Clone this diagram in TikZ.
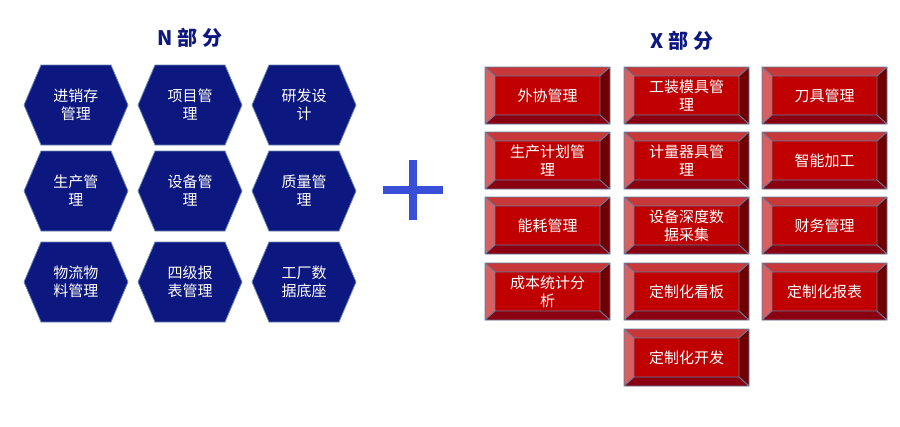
\documentclass[tikz,border=0pt]{standalone}
\usepackage{fontspec}
\setmainfont{Noto Sans CJK SC}
\usetikzlibrary{positioning}
\definecolor{hexblue}{HTML}{0D1780}
\definecolor{hexedge}{HTML}{6A88B0}
\definecolor{plusblue}{HTML}{3A4FD8}
\definecolor{facered}{HTML}{C00000}
\definecolor{toplit}{HTML}{C83838}
\definecolor{leftlit}{HTML}{D86060}
\definecolor{rightdark}{HTML}{700000}
\definecolor{botdark}{HTML}{8A0010}
\definecolor{frameblue}{HTML}{5F7FA0}
\tikzset{
	hexlabel/.style={text=white,font=\fontsize{15}{18}\selectfont,align=center,text width=62pt},
	redlabel/.style={text=white,font=\fontsize{15}{18}\selectfont,align=center,text width=100pt},
	title/.style={text=hexblue,font=\fontsize{20}{24}\selectfont\bfseries}
}
% hexagon centred at (#1,#2)
\newcommand{\hexcell}[4]{
	\fill[hexblue,draw=hexedge,line width=0.8pt]
	(#1-52,#2) -- (#1-35,#2-40) -- (#1+35,#2-40) -- (#1+52,#2)
	-- (#1+35,#2+40) -- (#1-35,#2+40) -- cycle;
	\node[hexlabel] (#3) at (#1,#2) {#4};
}
% bevelled box with top-left corner (#1,#2)
\newcommand{\redcell}[4]{
	\fill[toplit] (#1,#2) -- (#1+125,#2) -- (#1+115,#2+9) -- (#1+10,#2+9) -- cycle;
	\fill[leftlit] (#1,#2) -- (#1+10,#2+9) -- (#1+10,#2+48) -- (#1,#2+57) -- cycle;
	\fill[rightdark] (#1+125,#2) -- (#1+125,#2+57) -- (#1+115,#2+48) -- (#1+115,#2+9) -- cycle;
	\fill[botdark] (#1,#2+57) -- (#1+10,#2+48) -- (#1+115,#2+48) -- (#1+125,#2+57) -- cycle;
	\fill[facered] (#1+10,#2+9) rectangle (#1+115,#2+48);
	\draw[frameblue,line width=0.9pt] (#1,#2) rectangle (#1+125,#2+57)
	(#1+10,#2+9) rectangle (#1+115,#2+48)
	(#1,#2) -- (#1+10,#2+9) (#1+125,#2) -- (#1+115,#2+9)
	(#1,#2+57) -- (#1+10,#2+48) (#1+125,#2+57) -- (#1+115,#2+48);
	\node[redlabel] (#3) at (#1+62.5,#2+28.5) {#4};
}
\begin{document}
\begin{tikzpicture}[x=1pt,y=-1pt]
	\useasboundingbox (0,0) rectangle (900,426);
	% titles
	\node[title] (ntitle) at (190,38) {N 部 分};
	\node[title] (xtitle) at (682,41) {X 部 分};
	% N part
	\hexcell{76}{105}{jxc}{进销存\\管理}
	\hexcell{190}{105}{xmgl}{项目管\\理}
	\hexcell{304}{105}{yfsj}{研发设\\计}
	\hexcell{76}{191}{scgl}{生产管\\理}
	\hexcell{190}{191}{sbgl}{设备管\\理}
	\hexcell{304}{191}{zlgl}{质量管\\理}
	\hexcell{76}{282}{wlwl}{物流物\\料管理}
	\hexcell{190}{282}{sjbb}{四级报\\表管理}
	\hexcell{304}{282}{gcsj}{工厂数\\据底座}
	% plus
	\node (plus) at (413,190) {};
	\draw[plusblue,line width=8pt] (383,190) -- (443,190) (413,160) -- (413,220);
	% X part
	\redcell{485}{67}{wxgl}{外协管理}
	\redcell{624}{67}{gzmj}{工装模具管\\理}
	\redcell{762}{67}{djgl}{刀具管理}
	\redcell{485}{132}{scjh}{生产计划管\\理}
	\redcell{624}{132}{jlqj}{计量器具管\\理}
	\redcell{762}{132}{znjg}{智能加工}
	\redcell{485}{197}{nhgl}{能耗管理}
	\redcell{624}{197}{sbsd}{设备深度数\\据采集}
	\redcell{762}{197}{cwgl}{财务管理}
	\redcell{485}{263}{cbtj}{成本统计分\\析}
	\redcell{624}{263}{dzkb}{定制化看板}
	\redcell{762}{263}{dzbb}{定制化报表}
	\redcell{624}{329}{dzkf}{定制化开发}
\end{tikzpicture}
\end{document}
